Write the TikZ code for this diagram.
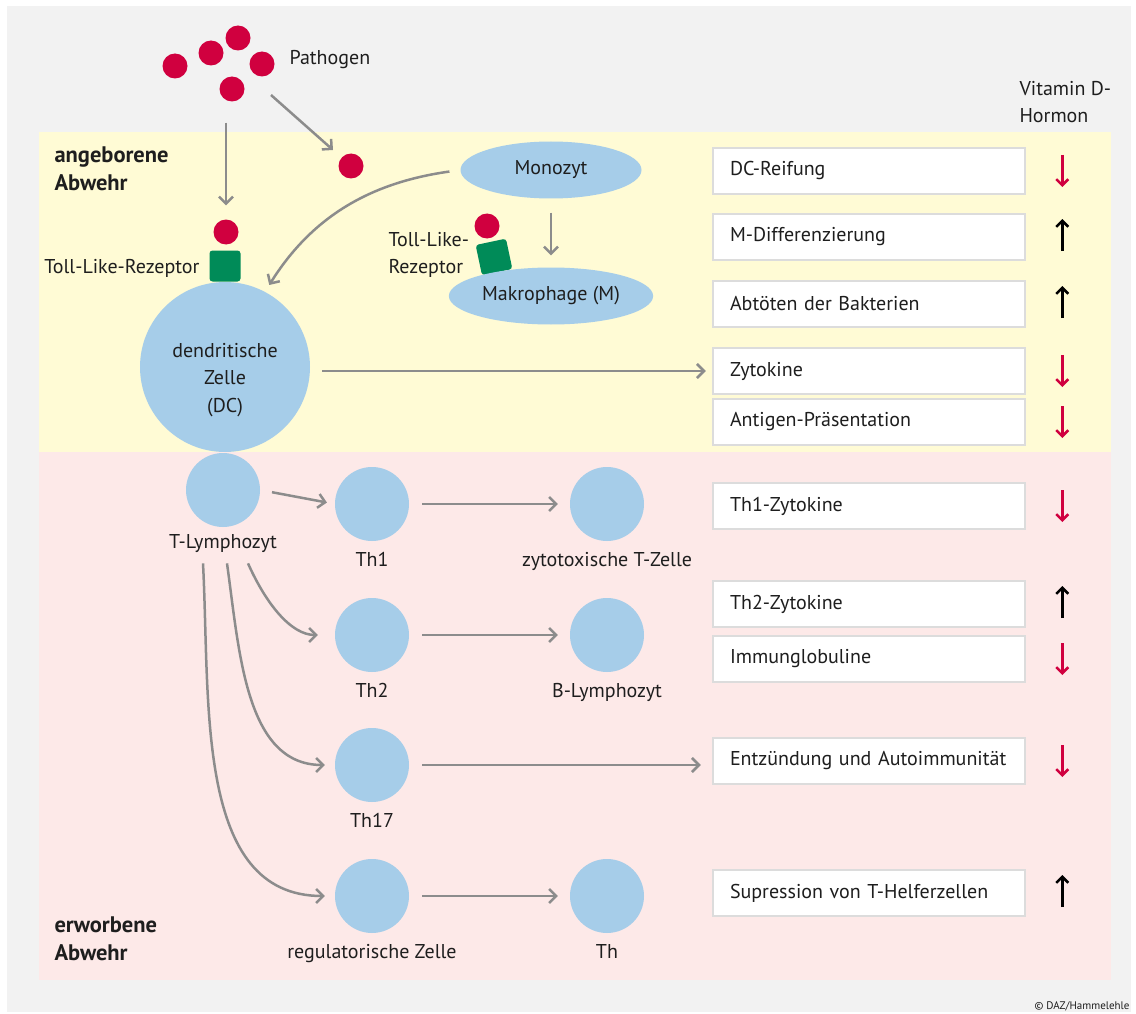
\documentclass[tikz,border=0pt]{standalone}
\usepackage{fontspec}
\setmainfont{PT Sans}
\usepackage{xcolor}
\usepackage{tikz}
\usetikzlibrary{shapes.geometric,arrows.meta,positioning}

\definecolor{bggray}{HTML}{F2F2F2}
\definecolor{innate}{HTML}{FFFBD5}
\definecolor{adaptive}{HTML}{FDE9E8}
\definecolor{cellblue}{HTML}{A6CDE9}
\definecolor{pathred}{HTML}{D0003F}
\definecolor{tlrgreen}{HTML}{008B58}
\definecolor{arrowgray}{HTML}{8C8C8C}
\definecolor{boxline}{HTML}{DCDCDC}
\definecolor{textdark}{HTML}{1E1E1E}

\begin{document}
\begin{tikzpicture}[
    x=1pt, y=1pt,
    font=\fontsize{20}{27.5}\selectfont, text=textdark,
    cell/.style={circle, fill=cellblue, minimum size=74pt, inner sep=0pt},
    every label/.style={yshift=-8pt},
    oval/.style={ellipse, fill=cellblue, minimum width=181pt, minimum height=57pt},
    germ/.style={circle, fill=pathred, minimum size=25pt, inner sep=0pt},
    tlr/.style={rectangle, rounded corners=3pt, fill=tlrgreen, minimum size=31pt, inner sep=0pt},
    effect/.style={rectangle, draw=boxline, line width=2.5pt, fill=white, text width=278pt, inner xsep=17pt, minimum height=46pt, align=left},
    band/.style={anchor=west, align=left, font=\fontsize{22.5}{28}\selectfont\bfseries},
    arrow/.style={-{Straight Barb[length=7pt,width=14pt]}, draw=arrowgray, line width=2.5pt},
    vdown/.style={-{Straight Barb[length=6pt,width=12pt]}, draw=pathred, line width=2.5pt},
    vup/.style={-{Straight Barb[length=6pt,width=12pt]}, draw=black, line width=2.5pt}
]
% background bands
\useasboundingbox (0,0) rectangle (1136,-1014);
\fill[white] (0,0) rectangle (1136,-1014);
\fill[bggray] (7,-6) rectangle (1131,-1012);
\fill[innate] (39,-132) rectangle (1111,-452);
\fill[adaptive] (39,-452) rectangle (1111,-980);

\node[band] (innlabel) at (51,-169) {angeborene\\Abwehr};
\node[band] (adalabel) at (51,-939) {erworbene\\Abwehr};

% pathogens
\node[germ] (p1) at (175,-66) {};
\node[germ] (p2) at (211,-53) {};
\node[germ] (p3) at (238,-38) {};
\node[germ] (p4) at (262,-64) {};
\node[germ] (p5) at (232,-89) {};
\node[anchor=west] (pathlabel) at (286,-60) {Pathogen};
\node[anchor=west, align=left] (vitlabel) at (1016,-102) {Vitamin D-\\Hormon};

% innate part
\node[germ] (mdot) at (351,-166) {};
\node[oval] (mono) at (551,-170) {Monozyt};
\node[tlr, rotate=12] (tlr2) at (494,-257) {};
\node[germ] (mdot2) at (487,-226) {};
\node[oval] (makro) at (551,-296) {Makrophage (M)};
\node[anchor=west, align=left] (tlr2label) at (385,-255) {Toll-Like-\\Rezeptor};

\node[circle, fill=cellblue, minimum size=170pt, inner sep=0pt] (dc) at (225,-367) {};
\node[align=center] (dctext) at ([yshift=-13pt]dc.center) {dendritische\\Zelle\\(DC)};
\node[tlr] (tlr1) at (225,-266) {};
\node[germ] (dcdot) at (226,-232) {};
\node[anchor=east] (tlr1label) at (203,-268) {Toll-Like-Rezeptor};

% adaptive part
\node[cell, label={[name=tlab, yshift=4pt]below:T-Lymphozyt}] (tl) at (223,-490) {};
\node[cell, label=below:Th1] (th1) at (372,-504) {};
\node[cell, label=below:Th2] (th2) at (372,-635) {};
\node[cell, label=below:Th17] (th17) at (372,-765) {};
\node[cell, label=below:regulatorische Zelle] (treg) at (372,-896) {};
\node[cell, label=below:zytotoxische T-Zelle] (ctl) at (607,-504) {};
\node[cell, label=below:B-Lymphozyt] (bcell) at (607,-635) {};
\node[cell, label=below:Th] (th) at (607,-896) {};

% effects
\node[effect] (dcr) at (869,-171) {DC-Reifung};
\node[effect] (mdiff) at (869,-237) {M-Differenzierung};
\node[effect] (kill) at (869,-304) {Abtöten der Bakterien};
\node[effect] (zyt) at (869,-371) {Zytokine};
\node[effect] (antigen) at (869,-422) {Antigen-Präsentation};
\node[effect] (th1zyt) at (869,-506) {Th1-Zytokine};
\node[effect] (th2zyt) at (869,-604) {Th2-Zytokine};
\node[effect] (ig) at (869,-659) {Immunglobuline};
\node[effect] (inflam) at (869,-761) {Entzündung und Autoimmunität};
\node[effect] (supp) at (869,-893) {Supression von T-Helferzellen};

\foreach \b in {dcr, zyt, antigen, th1zyt, ig, inflam}
    \draw[vdown] ([xshift=36pt,yshift=16pt]\b.east) -- ++(0,-32);
\foreach \b in {mdiff, kill, th2zyt, supp}
    \draw[vup] ([xshift=36pt,yshift=-14pt]\b.east) -- ++(0,32);

% connectors
\draw[arrow, shorten <=21pt, shorten >=14pt] (dcdot |- p5.south) -- (dcdot.north);
\draw[arrow] ([shift={(9,-31)}]p4.center) -- ([shift={(-18,16)}]mdot.center);
\draw[arrow, shorten <=14pt, shorten >=12pt] (mono) -- (makro);
\draw[arrow, shorten <=11pt, shorten >=8pt] (mono.west) to[out=188, in=58] (dc.62);
\draw[arrow, shorten <=12pt, shorten >=6pt] (dc.east |- zyt.west) -- (zyt.west);

\draw[arrow, shorten <=12pt, shorten >=8pt] (tl.east) -- (th1.west);
\draw[arrow, shorten <=13pt, shorten >=12pt] (th1) -- (ctl);
\draw[arrow, shorten <=13pt, shorten >=12pt] (th2) -- (bcell);
\draw[arrow, shorten <=13pt, shorten >=11pt] (th17) -- (th17 -| inflam.west);
\draw[arrow, shorten <=13pt, shorten >=12pt] (treg) -- (th);
\draw[arrow, shorten >=17pt] ([xshift=25pt,yshift=-7pt]tlab.south) to[out=-66, in=180] (th2.west);
\draw[arrow, shorten >=10pt] ([xshift=4pt,yshift=-7pt]tlab.south) to[out=-82, in=180] (th17.west);
\draw[arrow, shorten >=10pt] ([xshift=-20pt,yshift=-7pt]tlab.south) to[out=-87, in=180] (treg.west);

\node[anchor=east, font=\fontsize{11}{13}\selectfont] (copy) at (1133,-1006) {© DAZ/Hammelehle};
\end{tikzpicture}
\end{document}
